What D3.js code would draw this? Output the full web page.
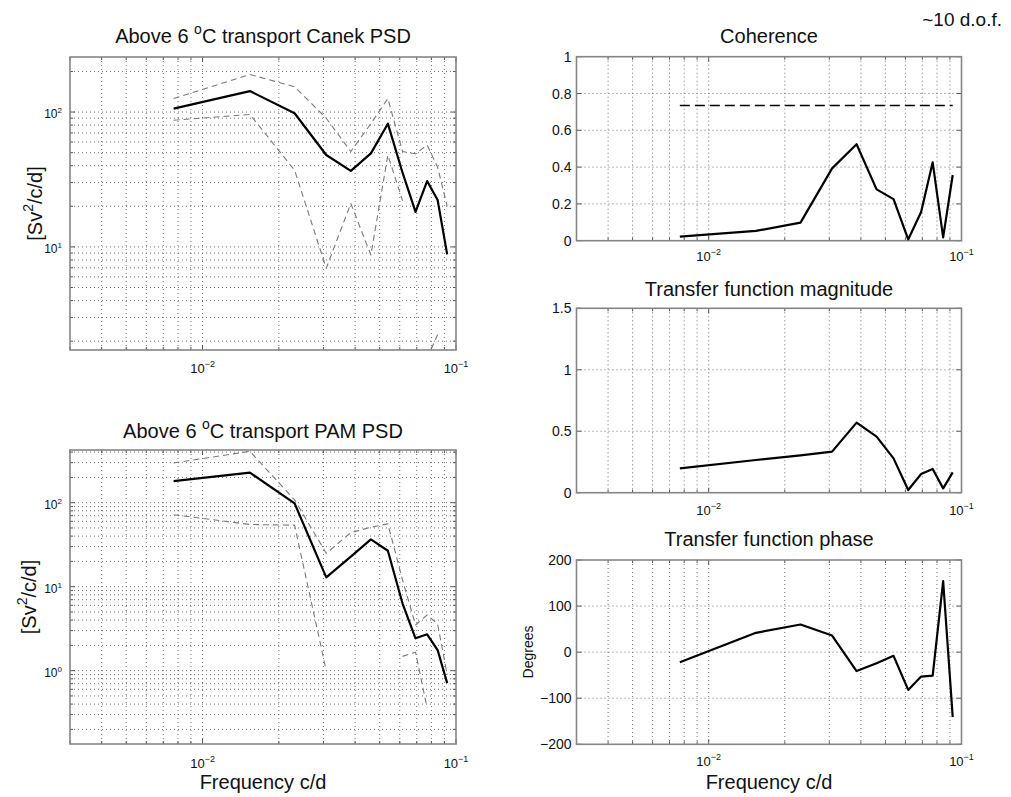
<!DOCTYPE html>
<html>
<head>
<meta charset="utf-8">
<script src="https://cdn.jsdelivr.net/npm/d3@7"></script>
<style>
  html, body { margin: 0; padding: 0; background: #fff; }
  svg text { font-family: "Liberation Sans", Arial, Helvetica, sans-serif; fill: #111; }
</style>
</head>
<body>
<svg id="fig" width="1011" height="797"></svg>
<script>
// Spectral estimates at the band-averaged frequencies (cycles per day)
const frequency = [0.00769, 0.01538, 0.02308, 0.03077, 0.03846, 0.04615, 0.05385, 0.06154, 0.06923, 0.07692, 0.08462, 0.09231];

// Above 6 °C transport, Canek: PSD and its upper / lower bounds (Sv^2/c/d); null = bound not positive
const canekPsd     = [106, 143, 98, 48, 36.6, 49.4, 82, 35.5, 18.2, 30.8, 22.3, 8.8];
const canekPsdHigh = [126, 190, 154, 90, 51, 82, 126, 51, 49, 57, 39, 20];
const canekPsdLow  = [87, 96, 37, 6.95, 21, 8.7, 48, 22, null, 1.5, 2.23, null];

// Above 6 °C transport, PAM
const pamPsd     = [181, 228, 98, 12.9, 22.8, 36.6, 26.8, 6.3, 2.43, 2.71, 1.76, 0.71];
const pamPsdHigh = [297, 409, 108, 25, 44, 51, 56, 12, 3.5, 4.6, 3.6, 0.9];
const pamPsdLow  = [72, 55, 54, 1.0, null, null, null, 1.48, 1.66, 0.36, null, null];

// Cross-spectral quantities
const coherence      = [0.022, 0.053, 0.098, 0.393, 0.524, 0.279, 0.226, 0.007, 0.156, 0.426, 0.018, 0.357];
const coherenceLevel = 0.735;   // significance level for ~10 d.o.f.
const gainMagnitude  = [0.198, 0.266, 0.304, 0.334, 0.570, 0.456, 0.279, 0.022, 0.152, 0.193, 0.035, 0.165];
const phaseDeg       = [-22, 42, 60, 36, -41, -24, -8, -82, -53, -51, 154, -141];

// Axis settings
const freqDomain   = [0.003, 0.1];
const freqMajor    = [0.01, 0.1];
const canekYDomain = [1.72, 256];
const pamYDomain   = [0.134, 424];
const cohTicks     = [0, 0.2, 0.4, 0.6, 0.8, 1];
const magTicks     = [0, 0.5, 1, 1.5];
const phaseTicks   = [-200, -100, 0, 100, 200];

const svg = d3.select("#fig");
svg.append("rect").attr("width", 1011).attr("height", 797).attr("fill", "#fff");

// text with optional superscript pieces
function richText(g, x, y, parts, size, anchor) {
  const t = g.append("text").attr("x", x).attr("y", y)
    .attr("font-size", size).attr("text-anchor", anchor || "middle");
  let shift = 0;
  parts.forEach(p => {
    const target = p.sup ? -Math.round(size * 0.45) : 0;
    t.append("tspan").attr("dy", target - shift)
      .attr("font-size", p.sup ? Math.round(size * 0.7) : size).text(p.t);
    shift = target;
  });
  return t;
}

function powLabel(v) {
  const e = Math.round(Math.log10(v));
  return [{ t: "10" }, { t: (e < 0 ? "\u2212" : "") + Math.abs(e), sup: true }];
}

let clipCount = 0;

function panel(cfg) {
  const g = svg.append("g");
  const x = d3.scaleLog().domain(freqDomain).range([cfg.left, cfg.right]);
  const y = (cfg.logY ? d3.scaleLog() : d3.scaleLinear()).domain(cfg.yDomain).range([cfg.bottom, cfg.top]);

  const clipId = "clip" + (clipCount++);
  g.append("clipPath").attr("id", clipId).append("rect")
    .attr("x", cfg.left).attr("y", cfg.top)
    .attr("width", cfg.right - cfg.left).attr("height", cfg.bottom - cfg.top);

  const inside = (v, d) => v > d[0] * 1.0001 && v < d[1] * 0.9999;
  const insideLin = (v, d) => v > d[0] + 1e-9 && v < d[1] - 1e-9;

  // dotted grid
  const grid = g.append("g").attr("stroke", "#444").attr("stroke-width", 1)
    .attr("stroke-dasharray", "1,3").attr("opacity", 0.75);
  const xGridVals = x.ticks().filter(v => inside(v, freqDomain));
  grid.selectAll("line.gx").data(xGridVals).join("line")
    .attr("x1", d => x(d)).attr("x2", d => x(d))
    .attr("y1", cfg.top).attr("y2", cfg.bottom);
  let yGridVals, yMajor;
  if (cfg.logY) {
    yGridVals = y.ticks().filter(v => inside(v, cfg.yDomain));
    yMajor = yGridVals.filter(v => Math.abs(Math.log10(v) - Math.round(Math.log10(v))) < 1e-6);
  } else {
    yMajor = cfg.yTicks;
    yGridVals = cfg.yTicks.filter(v => insideLin(v, cfg.yDomain));
  }
  grid.selectAll("line.gy").data(yGridVals).join("line")
    .attr("x1", cfg.left).attr("x2", cfg.right)
    .attr("y1", d => y(d)).attr("y2", d => y(d));

  // inward ticks on all four sides
  const ticks = g.append("g").attr("stroke", "#555").attr("stroke-width", 1);
  const xAll = x.ticks().filter(v => v >= freqDomain[0] * 0.9999 && v <= freqDomain[1] * 1.0001);
  xAll.forEach(v => {
    const L = freqMajor.some(m => Math.abs(m - v) < 1e-9) ? 5 : 3;
    ticks.append("line").attr("x1", x(v)).attr("x2", x(v)).attr("y1", cfg.bottom).attr("y2", cfg.bottom - L);
    ticks.append("line").attr("x1", x(v)).attr("x2", x(v)).attr("y1", cfg.top).attr("y2", cfg.top + L);
  });
  const yAll = cfg.logY ? y.ticks() : cfg.yTicks;
  yAll.forEach(v => {
    const L = yMajor.includes(v) ? 5 : 3;
    ticks.append("line").attr("x1", cfg.left).attr("x2", cfg.left + L).attr("y1", y(v)).attr("y2", y(v));
    ticks.append("line").attr("x1", cfg.right).attr("x2", cfg.right - L).attr("y1", y(v)).attr("y2", y(v));
  });

  // box
  g.append("rect").attr("x", cfg.left).attr("y", cfg.top)
    .attr("width", cfg.right - cfg.left).attr("height", cfg.bottom - cfg.top)
    .attr("fill", "none").attr("stroke", "#858585").attr("stroke-width", 1.6);

  // x tick labels
  freqMajor.forEach(v => {
    richText(g, x(v), cfg.bottom + cfg.xLabelGap, powLabel(v), 13, "middle");
  });

  // y tick labels
  if (cfg.logY) {
    yMajor.forEach(v => {
      richText(g, cfg.left - 8, y(v) + 6, powLabel(v), 12, "end");
    });
  } else {
    cfg.yTicks.forEach(v => {
      g.append("text").attr("x", cfg.left - 5).attr("y", y(v) + 5)
        .attr("font-size", 14).attr("text-anchor", "end")
        .text(v < 0 ? "\u2212" + Math.abs(v) : String(v));
    });
  }

  // data lines
  const plotArea = g.append("g").attr("clip-path", `url(#${clipId})`);
  (cfg.series || []).forEach(s => {
    const pts = frequency.map((f, i) => ({ f, v: s.values[i] }));
    const line = d3.line()
      .defined(d => d.v != null && (!cfg.logY || d.v > 0))
      .x(d => x(d.f)).y(d => y(d.v));
    plotArea.append("path").datum(pts)
      .attr("d", line).attr("fill", "none")
      .attr("stroke", s.color).attr("stroke-width", s.width)
      .attr("stroke-dasharray", s.dash || null)
      .attr("stroke-linejoin", "round");
  });

  // title
  const cx = (cfg.left + cfg.right) / 2;
  richText(g, cx, cfg.titleY, cfg.title, 20, "middle");

  return { g, x, y };
}

const left = { left: 70, right: 456 };
const right = { left: 576.5, right: 961.5 };

const canekPanel = panel(Object.assign({}, left, {
  top: 57, bottom: 350, logY: true, yDomain: canekYDomain, xLabelGap: 23,
  titleY: 43,
  title: [{ t: "Above 6 " }, { t: "o", sup: true }, { t: "C transport Canek PSD" }],
  series: [
    { values: canekPsdHigh, color: "#7a7a7a", width: 1.1, dash: "6,4" },
    { values: canekPsdLow, color: "#7a7a7a", width: 1.1, dash: "6,4" },
    { values: canekPsd, color: "#000", width: 2.2 }
  ]
}));

const pamPanel = panel(Object.assign({}, left, {
  top: 450, bottom: 744, logY: true, yDomain: pamYDomain, xLabelGap: 24,
  titleY: 438,
  title: [{ t: "Above 6 " }, { t: "o", sup: true }, { t: "C transport PAM PSD" }],
  series: [
    { values: pamPsdHigh, color: "#7a7a7a", width: 1.1, dash: "6,4" },
    { values: pamPsdLow, color: "#7a7a7a", width: 1.1, dash: "6,4" },
    { values: pamPsd, color: "#000", width: 2.2 }
  ]
}));

const cohPanel = panel(Object.assign({}, right, {
  top: 56.7, bottom: 240.7, logY: false, yDomain: [0, 1], yTicks: cohTicks, xLabelGap: 20,
  titleY: 43,
  title: [{ t: "Coherence" }],
  series: [
    { values: frequency.map(() => coherenceLevel), color: "#000", width: 1.6, dash: "10,5" },
    { values: coherence, color: "#000", width: 2.2 }
  ]
}));

const magPanel = panel(Object.assign({}, right, {
  top: 308.3, bottom: 492.7, logY: false, yDomain: [0, 1.5], yTicks: magTicks, xLabelGap: 22,
  titleY: 296,
  title: [{ t: "Transfer function magnitude" }],
  series: [{ values: gainMagnitude, color: "#000", width: 2.2 }]
}));

const phasePanel = panel(Object.assign({}, right, {
  top: 560, bottom: 744.3, logY: false, yDomain: [-200, 200], yTicks: phaseTicks, xLabelGap: 22,
  titleY: 546,
  title: [{ t: "Transfer function phase" }],
  series: [{ values: phaseDeg, color: "#000", width: 2.2 }]
}));

// axis labels
function yLabel(xPos, yPos, parts, size) {
  const g = svg.append("g").attr("transform", `translate(${xPos},${yPos}) rotate(-90)`);
  richText(g, 0, 0, parts, size, "middle");
}
const psdUnit = [{ t: "[Sv" }, { t: "2", sup: true }, { t: "/c/d]" }];
yLabel(42, 203.5, psdUnit, 20);
yLabel(36, 597, psdUnit, 20);
yLabel(533, 652, [{ t: "Degrees" }], 14);

svg.append("text").attr("x", 263).attr("y", 789).attr("font-size", 20)
  .attr("text-anchor", "middle").text("Frequency c/d");
svg.append("text").attr("x", 769).attr("y", 789).attr("font-size", 20)
  .attr("text-anchor", "middle").text("Frequency c/d");

svg.append("text").attr("x", 1002).attr("y", 26).attr("font-size", 19)
  .attr("text-anchor", "end").text("~10 d.o.f.");
</script>
</body>
</html>
